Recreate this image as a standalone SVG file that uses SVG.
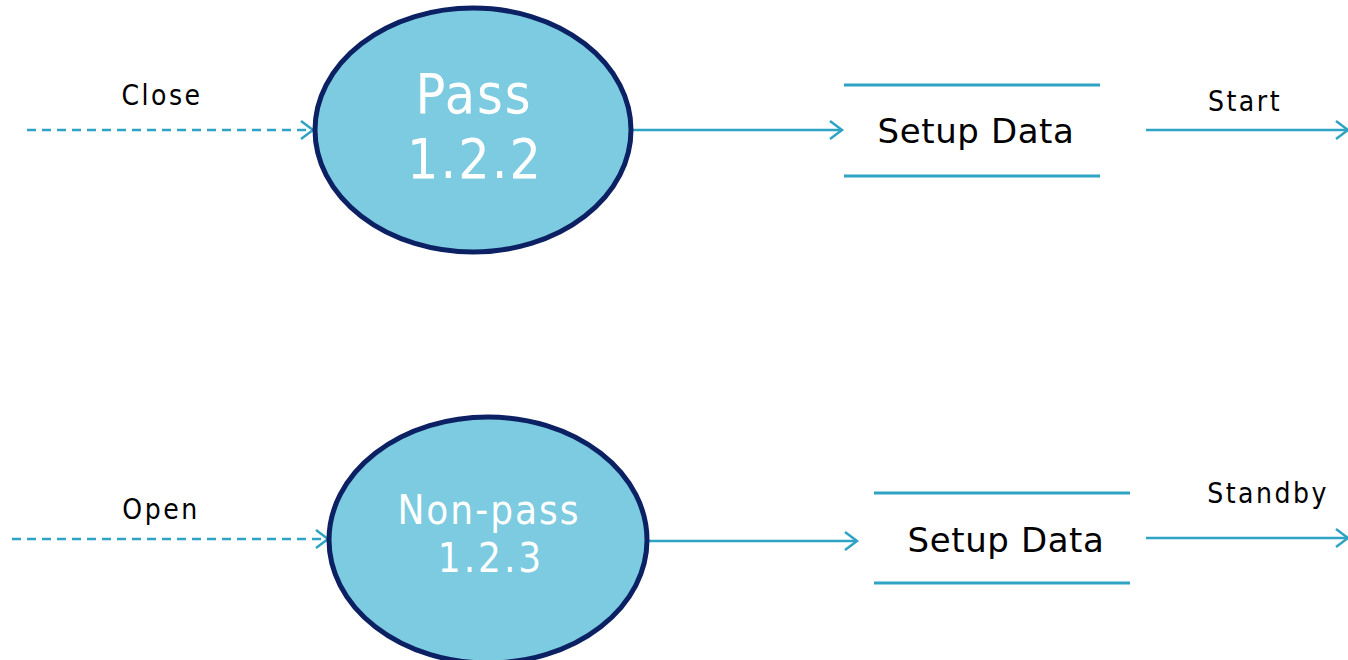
<svg xmlns="http://www.w3.org/2000/svg" width="1348" height="660" viewBox="0 0 1348 660">
<defs>
<marker id="arr" markerUnits="userSpaceOnUse" markerWidth="24" markerHeight="24" refX="13" refY="12" orient="auto" viewBox="0 0 24 24">
<path d="M1,3 L13,12 L1,21" fill="none" stroke="#2fa3c4" stroke-width="2.5"/>
</marker>
<style>
.bg{fill:#ffffff}
.proc{fill:#7ccbe0;stroke:#0c2163;stroke-width:5}
.ptxt{font-family:"DejaVu Sans Condensed","DejaVu Sans",sans-serif;fill:#ffffff;text-anchor:middle}
.store{stroke:#2fa3c4;stroke-width:3;fill:none}
.stxt{font-family:"DejaVu Sans",sans-serif;font-size:34px;letter-spacing:0.6px;fill:#000000;text-anchor:middle}
.flow{stroke:#2fa3c4;stroke-width:2.5;fill:none;marker-end:url(#arr)}
.dash{stroke-dasharray:9,6}
.lbl{font-family:"DejaVu Sans Condensed","DejaVu Sans",sans-serif;font-size:28px;letter-spacing:2.5px;fill:#000000;text-anchor:middle}
</style>
</defs>
<rect class="bg" x="0" y="0" width="1348" height="660"/>
<g id="connectors">
<line class="flow dash" x1="27" y1="130" x2="313" y2="130"/>
<line class="flow" x1="632" y1="130" x2="842" y2="130"/>
<line class="flow" x1="1146" y1="130" x2="1348" y2="130"/>
<line class="flow dash" x1="12" y1="539" x2="328" y2="539"/>
<line class="flow" x1="648" y1="541" x2="857" y2="541"/>
<line class="flow" x1="1146" y1="538" x2="1348" y2="538"/>
<text class="lbl" x="162" y="105">Close</text>
<text class="lbl" x="1245" y="111">Start</text>
<text class="lbl" x="161" y="519">Open</text>
<text class="lbl" x="1268" y="503">Standby</text>
</g>
<g id="pass">
<ellipse class="proc" cx="473" cy="130" rx="158" ry="122"/>
<text class="ptxt" x="474" y="113" font-size="55" letter-spacing="2">Pass</text>
<text class="ptxt" x="475" y="178" font-size="55" letter-spacing="2">1.2.2</text>
</g>
<g id="nonpass">
<ellipse class="proc" cx="488" cy="540" rx="159" ry="123"/>
<text class="ptxt" x="489" y="524" font-size="40" letter-spacing="2">Non-pass</text>
<text class="ptxt" x="491" y="572" font-size="40" letter-spacing="3">1.2.3</text>
</g>
<g id="store1">
<line class="store" x1="844" y1="85" x2="1100" y2="85"/>
<line class="store" x1="844" y1="176" x2="1100" y2="176"/>
<text class="stxt" x="976" y="143">Setup Data</text>
</g>
<g id="store2">
<line class="store" x1="874" y1="493" x2="1130" y2="493"/>
<line class="store" x1="874" y1="583" x2="1130" y2="583"/>
<text class="stxt" x="1006" y="552">Setup Data</text>
</g>
</svg>
